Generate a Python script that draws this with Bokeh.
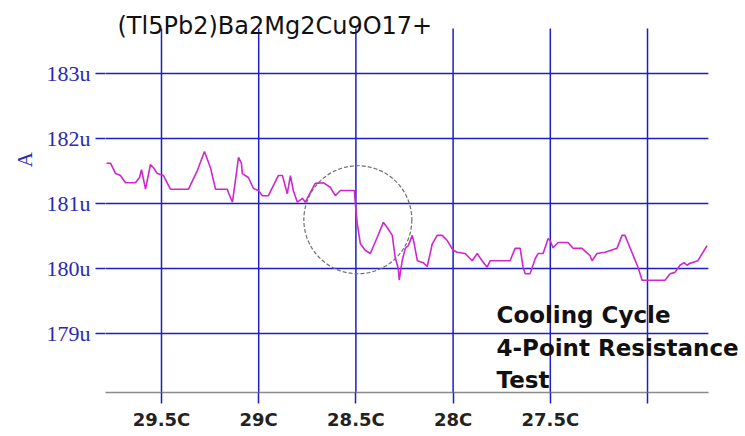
from bokeh.plotting import figure
from bokeh.models import Range1d, CustomJSTickFormatter, Label
from bokeh.embed import file_html
from bokeh.resources import INLINE

# ---------------- data ----------------
title_text = "(Tl5Pb2)Ba2Mg2Cu9O17+"
y_axis_name = "A"
note_lines = ["Cooling Cycle", "4-Point Resistance", "Test"]

x_ticks = [29.5, 29.0, 28.5, 28.0, 27.5, 27.0]
y_ticks = [179, 180, 181, 182, 183]

temp_c = [
    29.783, 29.762, 29.736, 29.711, 29.685, 29.634, 29.613, 29.603, 29.582, 29.557,
    29.541, 29.521, 29.490, 29.454, 29.361, 29.315, 29.279, 29.248, 29.222, 29.161,
    29.156, 29.135, 29.115, 29.104, 29.089, 29.084, 29.053, 29.027, 29.002, 28.981,
    28.950, 28.899, 28.878, 28.853, 28.837, 28.822, 28.801, 28.775, 28.760, 28.734,
    28.709, 28.668, 28.632, 28.606, 28.580, 28.508, 28.503, 28.493, 28.477, 28.452,
    28.426, 28.390, 28.359, 28.339, 28.313, 28.298, 28.282, 28.277, 28.262, 28.246,
    28.231, 28.210, 28.200, 28.184, 28.154, 28.133, 28.107, 28.082, 28.056, 28.030,
    28.000, 27.979, 27.938, 27.902, 27.876, 27.851, 27.825, 27.809, 27.707, 27.681,
    27.655, 27.640, 27.629, 27.604, 27.578, 27.563, 27.537, 27.511, 27.501, 27.486,
    27.460, 27.409, 27.383, 27.337, 27.296, 27.285, 27.260, 27.218, 27.157, 27.131,
    27.116, 27.090, 27.049, 27.028, 26.910, 26.884, 26.859, 26.833, 26.812, 26.797,
    26.782, 26.771, 26.741, 26.694,
]
current_ua = [
    181.62, 181.62, 181.46, 181.43, 181.32, 181.32, 181.40, 181.52, 181.22, 181.60,
    181.55, 181.46, 181.43, 181.22, 181.22, 181.51, 181.80, 181.55, 181.22, 181.22,
    181.17, 181.02, 181.46, 181.71, 181.62, 181.46, 181.40, 181.23, 181.20, 181.12,
    181.12, 181.43, 181.43, 181.15, 181.43, 181.20, 181.02, 181.08, 181.02, 181.17,
    181.31, 181.32, 181.25, 181.12, 181.20, 181.20, 181.00, 180.69, 180.38, 180.28,
    180.23, 180.48, 180.71, 180.63, 180.51, 180.17, 180.00, 179.82, 180.12, 180.31,
    180.35, 180.51, 180.38, 180.12, 180.09, 180.03, 180.38, 180.51, 180.51, 180.43,
    180.28, 180.25, 180.23, 180.12, 180.23, 180.12, 180.02, 180.12, 180.12, 180.31,
    180.31, 180.02, 179.92, 179.92, 180.15, 180.23, 180.23, 180.46, 180.43, 180.32,
    180.40, 180.40, 180.31, 180.31, 180.20, 180.12, 180.23, 180.25, 180.31, 180.51,
    180.51, 180.32, 180.02, 179.82, 179.82, 179.92, 179.94, 180.05, 180.09, 180.05,
    180.08, 180.09, 180.12, 180.35,
]

# highlighted transition (circled region)
circle_t = [28.49]
circle_i = [180.75]

# extent of the drawn grid (data units)
grid_t_left, grid_t_right = 29.788, 26.687
grid_i_bottom, grid_i_top = 178.092, 183.692

# ---------------- styling ----------------
GRID_BLUE = "#1e1ec4"
LABEL_BLUE = "#2a2ab0"
LINE_MAGENTA = "#cf26cf"

p = figure(
    width=745, height=436, title=None,
    output_backend="svg", toolbar_location=None,
    x_range=Range1d(29.788, 26.496),
    y_range=Range1d(178.092, 184.123),
    min_border_left=105, min_border_right=0,
    min_border_top=0, min_border_bottom=44,
)
p.outline_line_color = None
p.background_fill_color = "white"
p.border_fill_color = "white"
p.xgrid.visible = False
p.ygrid.visible = False

# axes / ticks
p.xaxis.ticker = x_ticks
p.yaxis.ticker = y_ticks
p.xaxis.bounds = (grid_t_right, grid_t_left)
p.xaxis.formatter = CustomJSTickFormatter(code="return tick === 27 ? '' : tick + 'C';")
p.yaxis.formatter = CustomJSTickFormatter(code="return tick + 'u';")

p.xaxis.axis_line_color = "#8a8a8a"
p.xaxis.axis_line_width = 1.5
p.xaxis.major_tick_line_color = GRID_BLUE
p.xaxis.major_tick_line_width = 1.5
p.xaxis.major_tick_in = 0
p.xaxis.major_tick_out = 11
p.xaxis.minor_tick_line_color = None
p.xaxis.major_label_standoff = 5
p.xaxis.major_label_text_font = "DejaVu Sans"
p.xaxis.major_label_text_font_style = "bold"
p.xaxis.major_label_text_font_size = "18px"
p.xaxis.major_label_text_color = "#222222"

p.yaxis.axis_line_color = None
p.yaxis.major_tick_line_color = GRID_BLUE
p.yaxis.major_tick_line_width = 1.3
p.yaxis.major_tick_in = 0
p.yaxis.major_tick_out = 10
p.yaxis.minor_tick_line_color = None
p.yaxis.major_label_standoff = 5
p.yaxis.major_label_text_font = "Liberation Serif"
p.yaxis.major_label_text_font_size = "22px"
p.yaxis.major_label_text_color = LABEL_BLUE
# the axis name sits above the vertical centre: pad it with no-break spaces
p.yaxis.axis_label = "\u00a0" * 14 + y_axis_name
p.yaxis.axis_label_text_font = "Liberation Serif"
p.yaxis.axis_label_text_font_style = "normal"
p.yaxis.axis_label_text_font_size = "21px"
p.yaxis.axis_label_text_color = LABEL_BLUE
p.yaxis.axis_label_standoff = 7

# grid lines, limited to the chart area
p.segment(x0=grid_t_left, y0=y_ticks, x1=grid_t_right, y1=y_ticks,
          line_color=GRID_BLUE, line_width=1.5)
p.segment(x0=x_ticks, y0=grid_i_bottom, x1=x_ticks, y1=grid_i_top,
          line_color=GRID_BLUE, line_width=1.5)

# data line
p.line(temp_c, current_ua, line_color=LINE_MAGENTA, line_width=1.6)

# dashed highlight circle
p.circle(x=circle_t, y=circle_i, radius=54, radius_units="screen",
         fill_color=None, line_color="#707070", line_width=1.2, line_dash="4 2")

# title inside the plot
p.add_layout(Label(x=12, y=367, x_units="screen", y_units="screen",
                   text=title_text, text_font="DejaVu Sans", text_font_size="24px",
                   text_color="#111111", text_baseline="alphabetic"))

# note
for txt, yy in zip(note_lines, [78, 45, 13]):
    p.add_layout(Label(x=391, y=yy, x_units="screen", y_units="screen",
                       text=txt, text_font="DejaVu Sans", text_font_style="bold",
                       text_font_size="23px", text_color="#111111",
                       text_baseline="alphabetic"))

open("out.html", "w").write(file_html(p, INLINE))
